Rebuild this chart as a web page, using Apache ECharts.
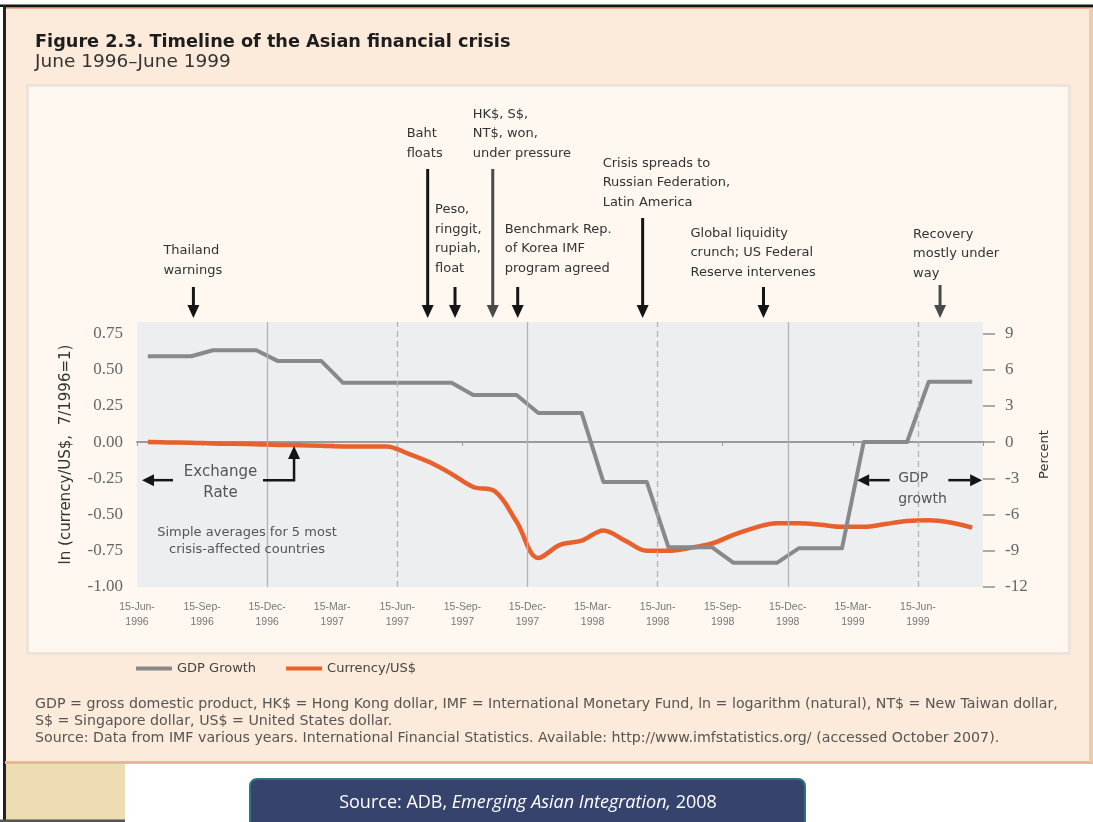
<!DOCTYPE html>
<html>
<head>
<meta charset="utf-8">
<title>Timeline of the Asian financial crisis</title>
<script src="https://cdn.jsdelivr.net/npm/echarts@6/dist/echarts.min.js"></script>
<style>
  html, body { margin: 0; padding: 0; background: #ffffff; }
  #chart { width: 1093px; height: 822px; }
</style>
</head>
<body>
<div id="chart"></div>
<script>
// Quarterly tick labels on the time axis (one every 3 months from 15-Jun-1996)
const tickLabels = [
  '15-Jun-\n1996', '15-Sep-\n1996', '15-Dec-\n1996', '15-Mar-\n1997',
  '15-Jun-\n1997', '15-Sep-\n1997', '15-Dec-\n1997', '15-Mar-\n1998',
  '15-Jun-\n1998', '15-Sep-\n1998', '15-Dec-\n1998', '15-Mar-\n1999',
  '15-Jun-\n1999'
];

// Monthly observations, in months after 15-Jun-1996 (Jul 1996 – Sep 1999)
const months = [
  0.5, 1.5, 2.5, 3.5, 4.5, 5.5, 6.5, 7.5, 8.5, 9.5,
  10.5, 11.5, 12.5, 13.5, 14.5, 15.5, 16.5, 17.5, 18.5, 19.5,
  20.5, 21.5, 22.5, 23.5, 24.5, 25.5, 26.5, 27.5, 28.5, 29.5,
  30.5, 31.5, 32.5, 33.5, 34.5, 35.5, 36.5, 37.5, 38.5
];

// GDP growth, percent (right axis) – quarterly rates held for each month
const gdpGrowth = [
  7.1, 7.1, 7.1, 7.6, 7.6, 7.6, 6.7, 6.7, 6.7, 4.9,
  4.9, 4.9, 4.9, 4.9, 4.9, 3.9, 3.9, 3.9, 2.4, 2.4,
  2.4, -3.3, -3.3, -3.3, -8.7, -8.7, -8.7, -10.0, -10.0, -10.0,
  -8.8, -8.8, -8.8, 0.0, 0.0, 0.0, 5.0, 5.0, 5.0
];

// ln(currency/US$), July 1996 = 1 (left axis)
const currencyUSD = [
  0.00, -0.003, -0.005, -0.01, -0.012, -0.015, -0.02, -0.022, -0.025, -0.03,
  -0.03, -0.03, -0.08, -0.14, -0.22, -0.31, -0.34, -0.55, -0.80, -0.71,
  -0.68, -0.61, -0.68, -0.75, -0.75, -0.73, -0.70, -0.64, -0.59, -0.56,
  -0.56, -0.57, -0.585, -0.585, -0.565, -0.545, -0.54, -0.555, -0.59
];

// Events marked above the plot and the month at which each arrow points
const eventLabels = [
  'Thailand\nwarnings',
  'Baht\nfloats',
  'Peso,\nringgit,\nrupiah,\nfloat',
  'HK$, S$,\nNT$, won,\nunder pressure',
  'Benchmark Rep.\nof Korea IMF\nprogram agreed',
  'Crisis spreads to\nRussian Federation,\nLatin America',
  'Global liquidity\ncrunch; US Federal\nReserve intervenes',
  'Recovery\nmostly under\nway'
];
const eventMonths = [2.6, 13.4, 14.66, 16.4, 17.55, 23.31, 28.88, 37.02];

const footnotes = [
  'GDP = gross domestic product, HK$ = Hong Kong dollar, IMF = International Monetary Fund, ln = logarithm (natural), NT$ = New Taiwan dollar,',
  'S$ = Singapore dollar, US$ = United States dollar.',
  'Source: Data from IMF various years. International Financial Statistics. Available: http://www.imfstatistics.org/ (accessed October 2007).'
];

const GRAY = '#898989';
const ORANGE = '#E8602C';
const SANS = 'DejaVu Sans';
const SERIF = 'Liberation Serif';

const chart = echarts.init(document.getElementById('chart'), null, { renderer: 'canvas', width: 1093, height: 822 });

const option = {
  animation: false,
  backgroundColor: 'transparent',
  title: [
    {
      text: 'Figure 2.3. Timeline of the Asian financial crisis',
      left: 30, top: 28,
      textStyle: { fontFamily: SANS, fontWeight: 'bold', fontSize: 17.7, color: '#1e1e1e' }
    },
    {
      text: 'June 1996\u2013June 1999',
      left: 30, top: 48,
      textStyle: { fontFamily: SANS, fontWeight: 'normal', fontSize: 18.5, color: '#333' }
    }
  ],
  legend: {
    left: 131, top: 657,
    data: ['GDP Growth', 'Currency/US$'],
    icon: 'rect', itemWidth: 36, itemHeight: 4, itemGap: 30,
    textStyle: { fontFamily: SANS, fontSize: 13, color: '#444' }
  },
  grid: {
    left: 137, right: 110, top: 322, bottom: 235,
    show: true, backgroundColor: '#EDEEEF', borderWidth: 0
  },
  xAxis: [
    {
      type: 'value', min: 0, max: 39, interval: 3,
      axisLine: { show: false, onZero: false }, axisTick: { show: false }, splitLine: { show: false },
      axisLabel: {
        margin: 13, color: '#777', fontFamily: 'Liberation Sans', fontSize: 10.5, lineHeight: 15,
        formatter: v => tickLabels[Math.round(v / 3)] || ''
      }
    },
    {
      // zero line with small quarterly ticks
      type: 'value', min: 0, max: 39, interval: 3, position: 'bottom',
      axisLine: { onZero: true, onZeroAxisIndex: 0, lineStyle: { color: '#9a9a9a', width: 2 } },
      axisTick: { show: true, length: 4, lineStyle: { color: '#9a9a9a', width: 1 } },
      axisLabel: { show: false }, splitLine: { show: false }
    }
  ],
  yAxis: [
    {
      type: 'value', min: -1, max: 0.828, interval: 0.25, position: 'left',
      name: 'ln (currency/US$,  7/1996=1)', nameLocation: 'middle', nameGap: 63,
      nameTextStyle: { fontFamily: SANS, fontSize: 15, color: '#333' },
      axisLine: { show: false, onZero: false }, axisTick: { show: false }, splitLine: { show: false },
      axisLabel: {
        margin: 14, color: '#666', fontFamily: SERIF, fontSize: 17, showMaxLabel: false,
        formatter: v => v.toFixed(2)
      }
    },
    {
      type: 'value', min: -12, max: 9.936, interval: 3, position: 'right',
      name: 'Percent', nameLocation: 'middle', nameGap: 54,
      nameTextStyle: { fontFamily: SANS, fontSize: 13, color: '#333' },
      axisLine: { show: false, onZero: false },
      axisTick: { show: true, length: 12, lineStyle: { color: '#8f8f8f', width: 1.5 } },
      splitLine: { show: false },
      axisLabel: { margin: 22, color: '#666', fontFamily: SERIF, fontSize: 17, showMaxLabel: false }
    }
  ],
  series: [
    {
      // vertical reference lines: solid at December, dashed at June
      type: 'line', xAxisIndex: 0, yAxisIndex: 0, data: [], z: 1, silent: true,
      markLine: {
        silent: true, symbol: ['none', 'none'], label: { show: false },
        lineStyle: { color: '#b3b3b3', width: 1.3, type: 'solid' },
        data: [
          { xAxis: 6 }, { xAxis: 18 }, { xAxis: 30 },
          { xAxis: 12, lineStyle: { type: [6, 4] } },
          { xAxis: 24, lineStyle: { type: [6, 4] } },
          { xAxis: 36, lineStyle: { type: [6, 4] } }
        ]
      }
    },
    {
      name: 'Currency/US$', type: 'line', xAxisIndex: 0, yAxisIndex: 0,
      data: months.map((m, i) => [m, currencyUSD[i]]),
      smooth: 0.35, symbol: 'none', z: 3,
      lineStyle: { color: ORANGE, width: 4.5 }, itemStyle: { color: ORANGE }
    },
    {
      name: 'GDP Growth', type: 'line', xAxisIndex: 0, yAxisIndex: 1,
      data: months.map((m, i) => [m, gdpGrowth[i]]),
      symbol: 'none', z: 4,
      lineStyle: { color: GRAY, width: 4, join: 'round' }, itemStyle: { color: GRAY }
    }
  ]
};

chart.setOption(option);

// pixel position of a (month, ln value) pair on the left-axis scale
function px(m, v) {
  return chart.convertToPixel({ xAxisIndex: 0, yAxisIndex: 0 }, [m, v]);
}

function downArrow(x, top, tip, color) {
  return [
    { type: 'line', z: 20, shape: { x1: x, y1: top, x2: x, y2: tip - 12 },
      style: { stroke: color, lineWidth: 3 } },
    { type: 'polygon', z: 20, shape: { points: [[x - 6, tip - 13], [x + 6, tip - 13], [x, tip]] },
      style: { fill: color } }
  ];
}

function hArrow(x1, x2, y, color) {
  // arrow from x1 to tip x2
  const dir = x2 > x1 ? 1 : -1;
  const base = x2 - dir * 12;
  return [
    { type: 'line', z: 20, shape: { x1: x1, y1: y, x2: base, y2: y }, style: { stroke: color, lineWidth: 2.5 } },
    { type: 'polygon', z: 20, shape: { points: [[base, y - 6], [base, y + 6], [x2, y]] }, style: { fill: color } }
  ];
}

const plotTop = px(0, 0.828)[1];
const tipY = plotTop - 4;

// top of each event arrow and where its text block ends
const eventLayout = [
  { top: 287, textDx: -30, textBottom: 280 },
  { top: 169, textDx: -21, textBottom: 163 },
  { top: 287, textDx: -20, textBottom: 278 },
  { top: 169, textDx: -20, textBottom: 163 },
  { top: 287, textDx: -13, textBottom: 278 },
  { top: 218, textDx: -40, textBottom: 212 },
  { top: 287, textDx: -73, textBottom: 282 },
  { top: 285, textDx: -27, textBottom: 283 }
];

const graphics = [];

// page and panel backgrounds
graphics.push(
  { type: 'rect', z: -100, silent: true, shape: { x: 0, y: 0, width: 1093, height: 822 }, style: { fill: '#ffffff' } },
  { type: 'rect', z: -99, silent: true, shape: { x: 5, y: 6, width: 1086, height: 757 }, style: { fill: '#FCEADB' } },
  { type: 'rect', z: -98, silent: true, shape: { x: 0, y: 4.5, width: 1093, height: 2.5 }, style: { fill: '#151515' } },
  { type: 'rect', z: -98, silent: true, shape: { x: 5, y: 7, width: 1088, height: 1.6 }, style: { fill: '#E07448' } },
  { type: 'rect', z: -98, silent: true, shape: { x: 3, y: 5, width: 3, height: 817 }, style: { fill: '#222222' } },
  { type: 'rect', z: -98, silent: true, shape: { x: 5, y: 761, width: 1088, height: 3 }, style: { fill: '#E9B796' } },
  { type: 'rect', z: -98, silent: true, shape: { x: 1089, y: 8, width: 4, height: 754 }, style: { fill: '#F0CBA9' } },
  { type: 'rect', z: -97, silent: true, shape: { x: 26, y: 84, width: 1045, height: 571 }, style: { fill: '#EEE3D8' } },
  { type: 'rect', z: -96, silent: true, shape: { x: 29, y: 87, width: 1039, height: 565 }, style: { fill: '#FEF8F1' } },
  { type: 'rect', z: -98, silent: true, shape: { x: 6, y: 764, width: 119, height: 56 }, style: { fill: '#EEDDB3' } },
  { type: 'rect', z: -98, silent: true, shape: { x: 0, y: 819.5, width: 125, height: 2.5 }, style: { fill: '#555555' } }
);

// event arrows and their captions
eventMonths.forEach((m, i) => {
  const x = px(m, 0)[0];
  const lay = eventLayout[i];
  const color = (i === 3 || i === 7) ? '#4a4a4a' : '#151515';
  graphics.push(...downArrow(x, lay.top, tipY, color));
  graphics.push({
    type: 'text', z: 20,
    style: {
      text: eventLabels[i], x: x + lay.textDx, y: lay.textBottom,
      align: 'left', verticalAlign: 'bottom',
      font: '13px "' + SANS + '"', lineHeight: 19.5, fill: '#333'
    }
  });
});

// exchange-rate callout
const exY = px(0, -0.263)[1];
const exLeft = px(0.23, 0), exTail = px(1.66, 0);
graphics.push(...hArrow(exTail[0], exLeft[0], exY, '#151515'));
const exText = px(3.85, -0.283);
graphics.push({
  type: 'text', z: 20,
  style: { text: 'Exchange\nRate', x: exText[0], y: exText[1], align: 'center', verticalAlign: 'middle',
           font: '15px "' + SANS + '"', lineHeight: 21, fill: '#555' }
});
const elbowA = px(5.81, -0.263), elbowB = px(7.24, -0.263), elbowTip = px(7.24, -0.028);
graphics.push(
  { type: 'polyline', z: 20, shape: { points: [elbowA, elbowB, [elbowB[0], elbowTip[1] + 12]] },
    style: { stroke: '#151515', lineWidth: 2.5, fill: null } },
  { type: 'polygon', z: 20, shape: { points: [[elbowB[0] - 6, elbowTip[1] + 13], [elbowB[0] + 6, elbowTip[1] + 13], [elbowB[0], elbowTip[1]]] },
    style: { fill: '#151515' } }
);
const avgText = px(5.07, -0.681);
graphics.push({
  type: 'text', z: 20,
  style: { text: 'Simple averages for 5 most\ncrisis-affected countries', x: avgText[0], y: avgText[1],
           align: 'center', verticalAlign: 'middle', font: '13px "' + SANS + '"', lineHeight: 17, fill: '#555' }
});

// GDP growth callout
const gY = px(0, -0.263)[1];
graphics.push(...hArrow(px(34.7, 0)[0], px(33.2, 0)[0], gY, '#151515'));
graphics.push(...hArrow(px(37.4, 0)[0], px(38.96, 0)[0], gY, '#151515'));
const gText = px(35.09, -0.322);
graphics.push({
  type: 'text', z: 20,
  style: { text: 'GDP\ngrowth', x: gText[0], y: gText[1], align: 'left', verticalAlign: 'middle',
           font: '14px "' + SANS + '"', lineHeight: 21, fill: '#555' }
});

// notes below the legend
footnotes.forEach((t, i) => {
  graphics.push({
    type: 'text', z: 20,
    style: { text: t, x: 35, y: 704 + i * 17, align: 'left', verticalAlign: 'middle',
             font: '14.2px "' + SANS + '"', fill: '#555' }
  });
});

// source box
graphics.push(
  { type: 'rect', z: 20, shape: { x: 250, y: 779, width: 555, height: 60, r: 7 },
    style: { fill: '#36446D', stroke: '#2E7480', lineWidth: 2 } },
  { type: 'text', z: 21,
    style: {
      text: '{a|Source: ADB, }{b|Emerging Asian Integration,}{a| 2008}',
      x: 528, y: 803, align: 'center', verticalAlign: 'middle',
      fill: '#ffffff',
      rich: {
        a: { fontFamily: 'Open Sans', fontSize: 18, fill: '#ffffff' },
        b: { fontFamily: 'Open Sans', fontSize: 18, fontStyle: 'italic', fill: '#ffffff' }
      }
    } }
);

chart.setOption({ graphic: graphics });
</script>
</body>
</html>
